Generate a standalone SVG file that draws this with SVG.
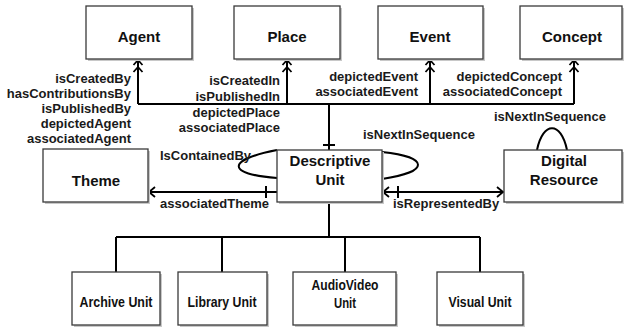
<svg xmlns="http://www.w3.org/2000/svg" width="624" height="328" viewBox="0 0 624 328">
<style>
.box{fill:#fff;stroke:#3a3a3a;stroke-width:1.3}
.sh{fill:#c8c8c8}
.bl{font-family:"Liberation Sans",Arial,sans-serif;font-weight:bold;font-size:15px;fill:#111;text-anchor:middle}
.cl{font-family:"Liberation Sans",Arial,sans-serif;font-weight:bold;font-size:13px;fill:#1a1a1a}
.r{text-anchor:end}
.ln{fill:none;stroke:#000;stroke-width:2}
</style>
<defs>
<marker id="many" viewBox="-15 -7 17 14" markerWidth="17" markerHeight="14" refX="0" refY="0" orient="auto" markerUnits="userSpaceOnUse">
<path d="M-5,-4.5 L0,0 L-5,4.5 M-12,-4.5 L-7,0 L-12,4.5" fill="none" stroke="#000" stroke-width="1.8"/>
</marker>
<marker id="one" viewBox="-8 -7 10 14" markerWidth="10" markerHeight="14" refX="0" refY="0" orient="auto-start-reverse" markerUnits="userSpaceOnUse">
<path d="M-6,-5 L0,0 L-6,5" fill="none" stroke="#000" stroke-width="1.8"/>
</marker>
</defs>
<rect width="624" height="328" fill="#fff"/>

<g id="connectors">
<path class="ln" d="M138,104 H574"/>
<path class="ln" d="M138,104 V60" marker-end="url(#many)"/>
<path class="ln" d="M287,104 V60" marker-end="url(#many)"/>
<path class="ln" d="M430,104 V60" marker-end="url(#many)"/>
<path class="ln" d="M574,104 V60" marker-end="url(#many)"/>
<path class="ln" d="M329,104 V150"/>
<path class="ln" d="M323,145 H335"/>
<path class="ln" d="M277,192 H149" marker-end="url(#one)"/>
<path class="ln" d="M266,186 V198"/>
<path class="ln" d="M383,192 H503" marker-start="url(#one)" marker-end="url(#one)"/>
<path class="ln" d="M398,186 V198"/>
<path class="ln" d="M382,152 C430,157 430,172 382,179"/>
<path class="ln" d="M277,150 C226,160 226,174 277,178"/>
<path class="ln" d="M537,150 C543,121 561,121 567,150"/>
<path class="ln" d="M329,202 V237 M116,237 H480 M116,237 V272 M222,237 V272 M345,237 V272 M480,237 V272"/>
<text class="cl r" x="131" y="83">isCreatedBy</text>
<text class="cl r" x="131" y="98">hasContributionsBy</text>
<text class="cl r" x="131" y="113">isPublishedBy</text>
<text class="cl r" x="131" y="128">depictedAgent</text>
<text class="cl r" x="131" y="143">associatedAgent</text>
<text class="cl r" x="280" y="85">isCreatedIn</text>
<text class="cl r" x="280" y="101">isPublishedIn</text>
<text class="cl r" x="280" y="117">depictedPlace</text>
<text class="cl r" x="280" y="132">associatedPlace</text>
<text class="cl r" x="418" y="81">depictedEvent</text>
<text class="cl r" x="418" y="96">associatedEvent</text>
<text class="cl r" x="562" y="81">depictedConcept</text>
<text class="cl r" x="562" y="96">associatedConcept</text>
<text class="cl" x="363" y="139">isNextInSequence</text>
<text class="cl" x="494" y="121">isNextInSequence</text>
<text class="cl" x="160" y="160">IsContainedBy</text>
<text class="cl" x="160" y="208">associatedTheme</text>
<text class="cl" x="393" y="208">isRepresentedBy</text>
</g>

<g id="agent"><rect class="sh" x="88" y="8" width="106" height="53"/><rect class="box" x="86" y="6" width="106" height="53"/><text class="bl" x="139" y="42">Agent</text></g>
<g id="place"><rect class="sh" x="236" y="8" width="106" height="53"/><rect class="box" x="234" y="6" width="106" height="53"/><text class="bl" x="287" y="42">Place</text></g>
<g id="event"><rect class="sh" x="380" y="8" width="105" height="53"/><rect class="box" x="378" y="6" width="105" height="53"/><text class="bl" x="430" y="42">Event</text></g>
<g id="concept"><rect class="sh" x="522" y="8" width="102" height="53"/><rect class="box" x="520" y="6" width="102" height="53"/><text class="bl" x="572" y="42">Concept</text></g>
<g id="theme"><rect class="sh" x="45" y="151" width="105" height="53"/><rect class="box" x="43" y="149" width="105" height="53"/><text class="bl" x="96" y="186">Theme</text></g>
<g id="descriptive-unit"><rect class="sh" x="279" y="152" width="105" height="52"/><rect class="box" x="277" y="150" width="105" height="52"/><text class="bl" x="330" y="166">Descriptive</text><text class="bl" x="330" y="185">Unit</text></g>
<g id="digital-resource"><rect class="sh" x="506" y="152" width="118" height="52"/><rect class="box" x="504" y="150" width="118" height="52"/><text class="bl" x="564" y="166">Digital</text><text class="bl" x="564" y="185">Resource</text></g>
<g id="archive-unit"><rect class="sh" x="74" y="274" width="88" height="53"/><rect class="box" x="72" y="272" width="88" height="53"/><text class="bl" x="116" y="307" textLength="73" lengthAdjust="spacingAndGlyphs">Archive Unit</text></g>
<g id="library-unit"><rect class="sh" x="180" y="274" width="89" height="53"/><rect class="box" x="178" y="272" width="89" height="53"/><text class="bl" x="222" y="307" textLength="69" lengthAdjust="spacingAndGlyphs">Library Unit</text></g>
<g id="audiovideo-unit"><rect class="sh" x="295" y="274" width="103" height="53"/><rect class="box" x="293" y="272" width="103" height="53"/><text class="bl" x="345" y="290" textLength="67" lengthAdjust="spacingAndGlyphs">AudioVideo</text><text class="bl" x="345" y="308" textLength="22" lengthAdjust="spacingAndGlyphs">Unit</text></g>
<g id="visual-unit"><rect class="sh" x="439" y="274" width="86" height="53"/><rect class="box" x="437" y="272" width="86" height="53"/><text class="bl" x="480" y="307" textLength="63" lengthAdjust="spacingAndGlyphs">Visual Unit</text></g>
</svg>
